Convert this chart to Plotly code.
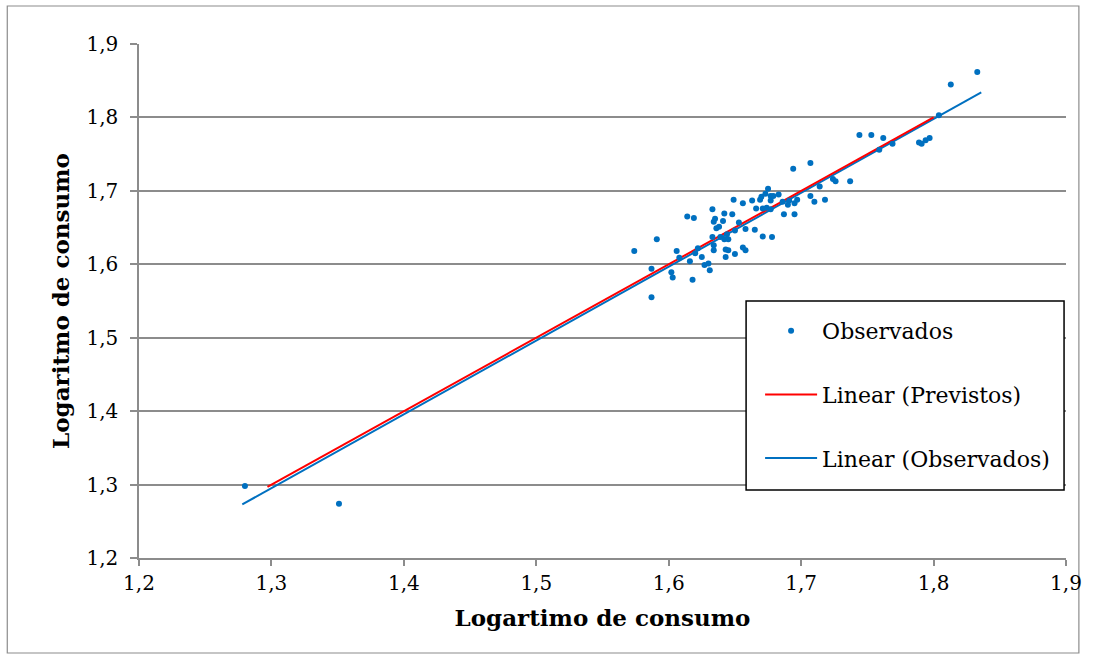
import plotly.graph_objects as go

# Observed pairs (log of consumption)
obs_x = [1.280, 1.351, 1.574, 1.591, 1.587, 1.587, 1.602, 1.603, 1.606, 1.608,
         1.614, 1.619, 1.616, 1.618, 1.620, 1.622, 1.625, 1.627, 1.630, 1.631,
         1.633, 1.633, 1.634, 1.635, 1.636, 1.638, 1.634, 1.634, 1.639, 1.642,
         1.642, 1.641, 1.644, 1.645, 1.643, 1.645, 1.643, 1.649, 1.648, 1.653,
         1.650, 1.650, 1.656, 1.658, 1.656, 1.658, 1.663, 1.665, 1.694, 1.666,
         1.669, 1.670, 1.673, 1.675, 1.677, 1.679, 1.677, 1.683, 1.671, 1.674,
         1.677, 1.686, 1.690, 1.691, 1.695, 1.697, 1.687, 1.695, 1.671, 1.678,
         1.744, 1.753, 1.707, 1.724, 1.726, 1.737, 1.714, 1.707, 1.710, 1.718,
         1.833, 1.813, 1.804, 1.762, 1.769, 1.759, 1.789, 1.791, 1.794, 1.797]
obs_y = [1.298, 1.274, 1.618, 1.634, 1.555, 1.594, 1.589, 1.582, 1.618, 1.609,
         1.665, 1.663, 1.604, 1.579, 1.615, 1.622, 1.610, 1.599, 1.601, 1.592,
         1.675, 1.637, 1.658, 1.662, 1.649, 1.651, 1.626, 1.619, 1.637, 1.634,
         1.669, 1.659, 1.641, 1.634, 1.620, 1.619, 1.610, 1.688, 1.668, 1.657,
         1.646, 1.614, 1.623, 1.619, 1.683, 1.648, 1.687, 1.647, 1.730, 1.676,
         1.688, 1.692, 1.696, 1.703, 1.693, 1.693, 1.687, 1.695, 1.676, 1.677,
         1.675, 1.685, 1.681, 1.687, 1.683, 1.688, 1.668, 1.668, 1.638, 1.637,
         1.776, 1.776, 1.738, 1.716, 1.713, 1.713, 1.706, 1.693, 1.685, 1.688,
         1.862, 1.845, 1.803, 1.772, 1.764, 1.756, 1.766, 1.764, 1.769, 1.772]

# Fitted linear trendlines (endpoints)
trend_prev_x = [1.297, 1.800]
trend_prev_y = [1.297, 1.800]
trend_obs_x = [1.278, 1.836]
trend_obs_y = [1.273, 1.834]

tick_vals = [1.2, 1.3, 1.4, 1.5, 1.6, 1.7, 1.8, 1.9]

BLUE = "#0070C0"
RED = "#FF0000"
GRID = "#8c8c8c"
FONT = "DejaVu Serif"

fig = go.Figure()
fig.add_trace(go.Scatter(
    x=trend_obs_x, y=trend_obs_y, mode="lines", name="Linear (Observados)",
    line=dict(color=BLUE, width=2), legendrank=3, legendgroup="c"))
fig.add_trace(go.Scatter(
    x=trend_prev_x, y=trend_prev_y, mode="lines", name="Linear (Previstos)",
    line=dict(color=RED, width=2), legendrank=2, legendgroup="b"))
fig.add_trace(go.Scatter(
    x=obs_x, y=obs_y, mode="markers", name="Observados",
    marker=dict(color=BLUE, size=6), legendrank=1, legendgroup="a"))

fig.update_layout(
    width=1094, height=659,
    margin=dict(l=139, r=19, t=44, b=101),
    paper_bgcolor="white", plot_bgcolor="white",
    separators=",.",
    font=dict(family=FONT, size=20, color="black"),
    showlegend=True,
    legend=dict(
        x=0.670, y=0.4825, xanchor="left", yanchor="top",
        bgcolor="rgba(0,0,0,0)", borderwidth=0,
        font=dict(family=FONT, size=22, color="black"),
        tracegroupgap=32, itemwidth=52, traceorder="grouped",
    ),
    xaxis=dict(
        range=[1.2, 1.9], tickvals=tick_vals, tickformat=".1f",
        showgrid=False, zeroline=False,
        showline=True, linecolor=GRID, linewidth=1.5,
        ticks="outside", ticklen=6, tickcolor=GRID, tickwidth=1.5,
        title=dict(text="<b>Logartimo de consumo</b>", font=dict(size=23), standoff=16),
    ),
    yaxis=dict(
        range=[1.2, 1.9], tickvals=tick_vals, tickformat=".1f",
        showgrid=True, gridcolor=GRID, gridwidth=1.5, zeroline=False,
        showline=True, linecolor=GRID, linewidth=1.5,
        ticks="outside", ticklen=7, tickcolor=GRID, tickwidth=1.5,
        ticklabelstandoff=8,
        title=dict(text="<b>Logaritmo de consumo</b>", font=dict(size=23), standoff=10),
    ),
    shapes=[
        # outer chart border
        dict(type="rect", xref="paper", yref="paper",
             x0=-0.1421, x1=1.0139, y0=-0.1848, y1=1.0739,
             line=dict(color=GRID, width=1.2), layer="below"),
        # legend frame
        dict(type="rect", xref="paper", yref="paper",
             x0=0.6549, x1=0.9979, y0=0.1323, y1=0.5,
             fillcolor="white", line=dict(color="black", width=1.5), layer="above"),
    ],
)

fig.write_html("out.html")
